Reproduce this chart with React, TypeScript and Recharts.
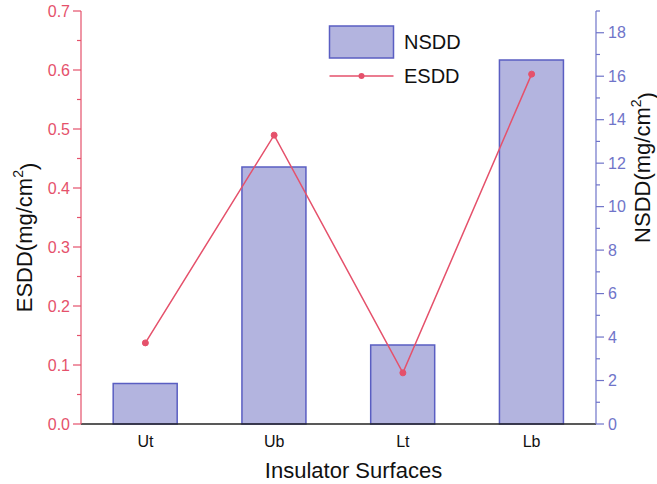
import React from 'react';
import { ComposedChart, Bar, Line, XAxis, YAxis, Label } from 'recharts';

const categories = ['Ut', 'Ub', 'Lt', 'Lb'];
const nsddValues = [1.86, 11.82, 3.64, 16.75];
const esddValues = [0.1375, 0.4896, 0.0867, 0.593];
const leftTicks = [0, 0.05, 0.1, 0.15, 0.2, 0.25, 0.3, 0.35, 0.4, 0.45, 0.5, 0.55, 0.6, 0.65, 0.7];
const rightTicks = [0, 1, 2, 3, 4, 5, 6, 7, 8, 9, 10, 11, 12, 13, 14, 15, 16, 17, 18, 19];

const data = categories.map((name, i) => ({ name, nsdd: nsddValues[i], esdd: esddValues[i] }));

const RED = '#e5516b';
const BLUE = '#6f74c9';
const BAR_FILL = '#b3b4df';
const BAR_STROKE = '#5a5ec2';
const FONT = '"Liberation Sans", Arial, sans-serif';

const LeftTick = (props: any) => {
  const { x, y, payload } = props;
  const v = payload.value as number;
  const major = Math.round(v * 100) % 10 === 0;
  return (
    <g>
      <line x1={x - (major ? 8 : 4)} x2={x} y1={y} y2={y} stroke={RED} strokeWidth={1.2} />
      {major && (
        <text x={x - 11} y={y} dy="0.36em" textAnchor="end" fill={RED} style={{ fontSize: 16, fontFamily: FONT }}>
          {v.toFixed(1)}
        </text>
      )}
    </g>
  );
};

const RightTick = (props: any) => {
  const { x, y, payload } = props;
  const v = payload.value as number;
  const major = v % 2 === 0;
  return (
    <g>
      <line x1={x} x2={x + (major ? 8 : 4)} y1={y} y2={y} stroke={BLUE} strokeWidth={1.2} />
      {major && (
        <text x={x + 12} y={y} dy="0.36em" textAnchor="start" fill={BLUE} style={{ fontSize: 16, fontFamily: FONT }}>
          {v}
        </text>
      )}
    </g>
  );
};

const BottomTick = (props: any) => {
  const { x, y, payload } = props;
  return (
    <text x={x} y={y + 17} dy="0.36em" textAnchor="middle" fill="#111" style={{ fontSize: 16, fontFamily: FONT }}>
      {payload.value}
    </text>
  );
};

const RotatedLabel = (name: string, dxFromLeft: number, dyFromCenter: number) => (props: any) => {
  const vb = props.viewBox;
  const cx = vb.x + dxFromLeft;
  const cy = vb.y + vb.height / 2 + dyFromCenter;
  return (
    <text
      x={cx}
      y={cy}
      transform={`rotate(-90, ${cx}, ${cy})`}
      textAnchor="middle"
      dominantBaseline="central"
      style={{ fontSize: 22, fontFamily: FONT }}
      fill="#111"
    >
      {name}(mg/cm
      <tspan dy="-0.45em" style={{ fontSize: 14 }}>2</tspan>
      <tspan dy="0.45em">)</tspan>
    </text>
  );
};

const LegendBox = () => (
  <svg width={170} height={80} style={{ position: 'absolute', left: 320, top: 15 }}>
    <rect x={9.5} y={11} width={64} height={32} fill={BAR_FILL} stroke={BAR_STROKE} strokeWidth={1.5} />
    <text x={84} y={27} dy="0.36em" fontSize={20} fontFamily={FONT} fill="#111">NSDD</text>
    <line x1={9.5} x2={73.5} y1={61} y2={61} stroke={RED} strokeWidth={1.5} />
    <circle cx={41.5} cy={61} r={3} fill={RED} />
    <text x={84} y={61} dy="0.36em" fontSize={20} fontFamily={FONT} fill="#111">ESDD</text>
  </svg>
);

export default function App() {
  return (
    <div style={{ position: 'absolute', left: 0, top: 0, width: 657, height: 484, background: '#fff' }}>
      <ComposedChart
        width={657}
        height={484}
        data={data}
        margin={{ top: 11, right: 0, bottom: 0, left: 0 }}
        barCategoryGap="25%"
      >
        <XAxis
          dataKey="name"
          xAxisId="bottom"
          height={60}
          axisLine={{ stroke: '#222', strokeWidth: 1.5 }}
          tickLine={false}
          tickSize={0}
          tickMargin={0}
          tick={BottomTick}
        >
          <Label value="Insulator Surfaces" position="insideBottom" offset={6} dx={15} fontSize={22} fontFamily={FONT} fill="#111" />
        </XAxis>
        <XAxis
          dataKey="name"
          xAxisId="top"
          orientation="top"
          height={0}
          tick={false}
          tickLine={false}
          axisLine={{ stroke: '#222', strokeWidth: 1.5 }}
        />
        <YAxis
          yAxisId="left"
          orientation="left"
          width={81}
          domain={[0, 0.7]}
          ticks={leftTicks}
          interval={0}
          tickSize={0}
          tickMargin={0}
          tickLine={false}
          axisLine={{ stroke: RED, strokeWidth: 1.2 }}
          tick={LeftTick}
        >
          <Label content={RotatedLabel('ESDD', 24, 20)} />
        </YAxis>
        <YAxis
          yAxisId="right"
          orientation="right"
          width={61}
          domain={[0, 19]}
          ticks={rightTicks}
          interval={0}
          tickSize={0}
          tickMargin={0}
          tickLine={false}
          axisLine={{ stroke: BLUE, strokeWidth: 1.2 }}
          tick={RightTick}
        >
          <Label content={RotatedLabel('NSDD', 46, -50)} />
        </YAxis>
        <Bar
          dataKey="nsdd"
          xAxisId="bottom"
          yAxisId="right"
          fill={BAR_FILL}
          stroke={BAR_STROKE}
          strokeWidth={1.5}
          isAnimationActive={false}
        />
        <Line
          dataKey="esdd"
          xAxisId="bottom"
          yAxisId="left"
          stroke={RED}
          strokeWidth={1.5}
          dot={{ r: 3, fill: RED, stroke: RED, strokeWidth: 1 }}
          isAnimationActive={false}
        />
      </ComposedChart>
      <LegendBox />
    </div>
  );
}
